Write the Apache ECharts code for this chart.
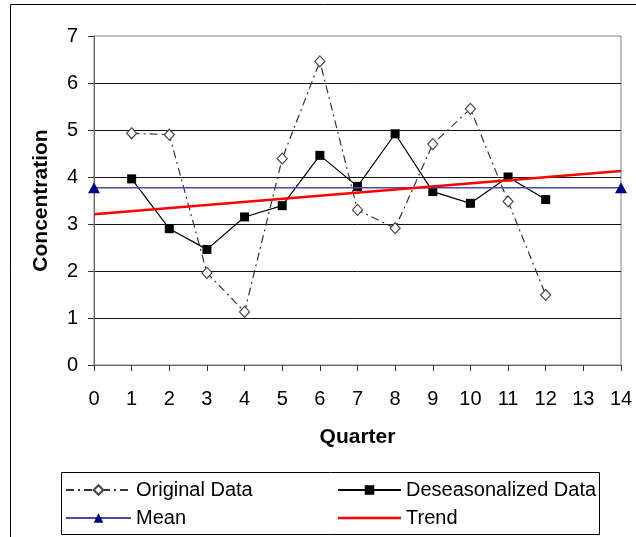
<!DOCTYPE html>
<html>
<head>
<meta charset="utf-8">
<script src="https://cdn.jsdelivr.net/npm/echarts@6/dist/echarts.min.js"></script>
<style>html,body{margin:0;padding:0;background:#fff}#c{width:636px;height:537px}</style>
</head>
<body>
<div id="c"></div>
<script>
var quarters = [1,2,3,4,5,6,7,8,9,10,11,12];
var originalData = [4.93,4.90,1.96,1.13,4.39,6.46,3.30,2.91,4.70,5.45,3.48,1.49];
var deseasonalized = [3.96,2.90,2.46,3.15,3.39,4.46,3.80,4.92,3.69,3.44,4.00,3.52];
var meanX = [0,14];
var meanValue = 3.77;
var trendX = [0,14];
var trendY = [3.21,4.13];

function pairs(xs, ys){ return xs.map(function(x,i){ return [x, ys[i]]; }); }

var chart = echarts.init(document.getElementById('c'), null, {renderer:'canvas'});
var font = 'Liberation Sans, Arial, sans-serif';
chart.setOption({
  animation:false,
  textStyle:{fontFamily:font},
  grid:{left:94,right:15,top:36,bottom:172,show:true,borderColor:'#808080',borderWidth:1,backgroundColor:'#fff'},
  xAxis:{
    type:'value',min:0,max:14,interval:1,
    name:'Quarter',nameLocation:'middle',nameGap:62,
    nameTextStyle:{fontSize:21,fontWeight:'bold',color:'#000',fontFamily:font},
    axisLine:{show:true,onZero:false,lineStyle:{color:'#666',width:1}},
    axisTick:{show:true,length:6,lineStyle:{color:'#333'}},
    axisLabel:{fontSize:20,color:'#000',margin:24,fontFamily:font},
    splitLine:{show:false}
  },
  yAxis:{
    type:'value',min:0,max:7,interval:1,
    name:'Concentration',nameLocation:'middle',nameGap:42,
    nameTextStyle:{fontSize:21,fontWeight:'bold',color:'#000',fontFamily:font},
    axisLine:{show:true,lineStyle:{color:'#666',width:1}},
    axisTick:{show:true,length:6,lineStyle:{color:'#333'}},
    axisLabel:{fontSize:20,color:'#000',margin:16,fontFamily:font},
    splitLine:{show:true,showMaxLine:false,lineStyle:{color:'#111',width:1}}
  },
  legend:[{
    orient:'vertical',left:65,top:480,height:60,padding:0,itemWidth:65,itemHeight:12,itemGap:8,
    data:['Original Data','Mean'],
    textStyle:{fontSize:20,color:'#000',lineHeight:20,fontFamily:font}
  },{
    orient:'vertical',left:337,top:480,height:60,padding:0,itemWidth:63,itemHeight:12,itemGap:8,
    data:['Deseasonalized Data',{name:'Trend',icon:'path://M0,0H63V2.5H0Z'}],
    textStyle:{fontSize:20,color:'#000',lineHeight:20,fontFamily:font}
  }],
  graphic:[
    {type:'rect',shape:{x:10.5,y:4.5,width:700,height:600},style:{fill:null,stroke:'#000',lineWidth:1},z:-10,silent:true},
    {type:'rect',shape:{x:61.5,y:472.5,width:538,height:62},style:{fill:'#fff',stroke:'#000',lineWidth:1},z:-5,silent:true}
  ],
  series:[
    {name:'Original Data',type:'line',data:pairs(quarters,originalData),
     symbol:'diamond',symbolSize:[10,11],
     lineStyle:{color:'#333',width:1.2,type:[8,4,2,4]},
     itemStyle:{color:'#fff',borderColor:'#444',borderWidth:1.2},z:2},
    {name:'Deseasonalized Data',type:'line',data:pairs(quarters,deseasonalized),
     symbol:'rect',symbolSize:9,
     lineStyle:{color:'#000',width:1.2},
     itemStyle:{color:'#000'},z:3},
    {name:'Mean',type:'line',data:meanX.map(function(x){return [x,meanValue];}),
     symbol:'triangle',symbolSize:[12,11],clip:false,
     lineStyle:{color:'#4a4aa8',width:1.5},
     itemStyle:{color:'#000080'},z:4},
    {name:'Trend',type:'line',data:pairs(trendX,trendY),
     symbol:'none',
     lineStyle:{color:'#ff0000',width:2.5},
     itemStyle:{color:'#ff0000'},z:5}
  ]
});
</script>
</body>
</html>
